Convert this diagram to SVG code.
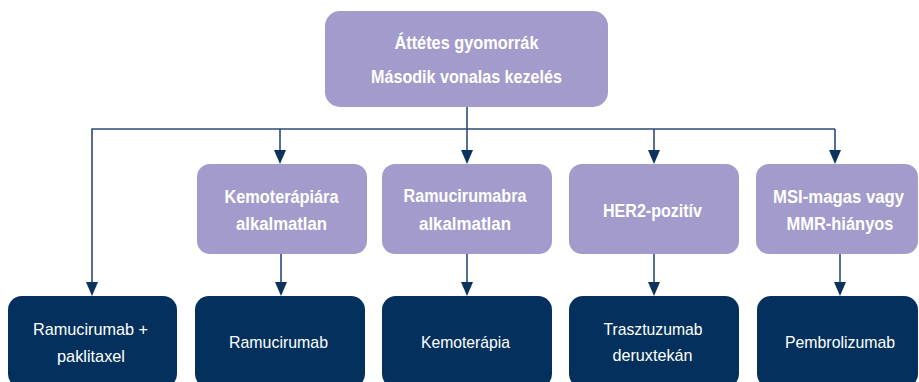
<svg xmlns="http://www.w3.org/2000/svg" width="919" height="382" viewBox="0 0 919 382">
  <style>
    .cat { fill: #A39BCB; }
    .tx { fill: #03305C; }
    .lbl { font-family: "Liberation Sans", Arial, sans-serif; font-size: 17px; fill: #ffffff; text-anchor: middle; }
    .b { font-weight: bold; font-size: 18px; }
    .conn { stroke: #2A4C76; stroke-width: 1.6; fill: none; }
    .head { fill: #0C325E; }
  </style>
  <rect width="919" height="382" fill="#ffffff"/>

  <g id="connectors">
    <polyline class="conn" points="92,282 92,129 835,129"/>
    <path class="conn" d="M467,107 V150"/>
    <path class="conn" d="M280,129 V150"/>
    <path class="conn" d="M654,129 V150"/>
    <path class="conn" d="M835,129 V150"/>
    <path class="conn" d="M281,254 V282"/>
    <path class="conn" d="M467,254 V282"/>
    <path class="conn" d="M654,254 V282"/>
    <path class="conn" d="M840,254 V282"/>
    <g class="head">
      <path d="M461,150 H473 L467,164 Z"/>
      <path d="M274,150 H286 L280,164 Z"/>
      <path d="M648,150 H660 L654,164 Z"/>
      <path d="M829,150 H841 L835,164 Z"/>
      <path d="M86,282 H98 L92,296 Z"/>
      <path d="M275,282 H287 L281,296 Z"/>
      <path d="M461,282 H473 L467,296 Z"/>
      <path d="M648,282 H660 L654,296 Z"/>
      <path d="M834,282 H846 L840,296 Z"/>
    </g>
  </g>

  <g id="root">
    <rect class="cat" x="325" y="11" width="283" height="96" rx="15"/>
    <text class="lbl b" x="466.5" y="49" textLength="144" lengthAdjust="spacingAndGlyphs">Áttétes gyomorrák</text>
    <text class="lbl b" x="466.5" y="83" textLength="191" lengthAdjust="spacingAndGlyphs">Második vonalas kezelés</text>
  </g>

  <g id="cat-kemo">
    <rect class="cat" x="197" y="164" width="170" height="90" rx="13"/>
    <text class="lbl b" x="281.5" y="203" textLength="114" lengthAdjust="spacingAndGlyphs">Kemoterápiára</text>
    <text class="lbl b" x="281.5" y="230" textLength="91" lengthAdjust="spacingAndGlyphs">alkalmatlan</text>
  </g>
  <g id="cat-ramu">
    <rect class="cat" x="382" y="164" width="170" height="90" rx="13"/>
    <text class="lbl b" x="465" y="202" textLength="123" lengthAdjust="spacingAndGlyphs">Ramucirumabra</text>
    <text class="lbl b" x="465" y="230" textLength="92" lengthAdjust="spacingAndGlyphs">alkalmatlan</text>
  </g>
  <g id="cat-her2">
    <rect class="cat" x="569" y="164" width="170" height="90" rx="13"/>
    <text class="lbl b" x="652.5" y="217" textLength="99" lengthAdjust="spacingAndGlyphs">HER2-pozitív</text>
  </g>
  <g id="cat-msi">
    <rect class="cat" x="756" y="164" width="162" height="90" rx="13"/>
    <text class="lbl b" x="838.5" y="203" textLength="131" lengthAdjust="spacingAndGlyphs">MSI-magas vagy</text>
    <text class="lbl b" x="840" y="230" textLength="107" lengthAdjust="spacingAndGlyphs">MMR-hiányos</text>
  </g>

  <g id="tx-ramu-pakli">
    <rect class="tx" x="8" y="296" width="169" height="92" rx="14"/>
    <text class="lbl" x="90.5" y="335" textLength="115" lengthAdjust="spacingAndGlyphs">Ramucirumab +</text>
    <text class="lbl" x="91" y="362" textLength="68" lengthAdjust="spacingAndGlyphs">paklitaxel</text>
  </g>
  <g id="tx-ramu">
    <rect class="tx" x="195" y="296" width="170" height="92" rx="14"/>
    <text class="lbl" x="278.5" y="348" textLength="99" lengthAdjust="spacingAndGlyphs">Ramucirumab</text>
  </g>
  <g id="tx-kemo">
    <rect class="tx" x="382" y="296" width="170" height="92" rx="14"/>
    <text class="lbl" x="465.5" y="348" textLength="89" lengthAdjust="spacingAndGlyphs">Kemoterápia</text>
  </g>
  <g id="tx-tdxd">
    <rect class="tx" x="569" y="296" width="170" height="92" rx="14"/>
    <text class="lbl" x="653" y="335" textLength="99" lengthAdjust="spacingAndGlyphs">Trasztuzumab</text>
    <text class="lbl" x="652.5" y="361" textLength="80" lengthAdjust="spacingAndGlyphs">deruxtekán</text>
  </g>
  <g id="tx-pembro">
    <rect class="tx" x="757" y="296" width="161" height="92" rx="14"/>
    <text class="lbl" x="840" y="348" textLength="110" lengthAdjust="spacingAndGlyphs">Pembrolizumab</text>
  </g>
</svg>
